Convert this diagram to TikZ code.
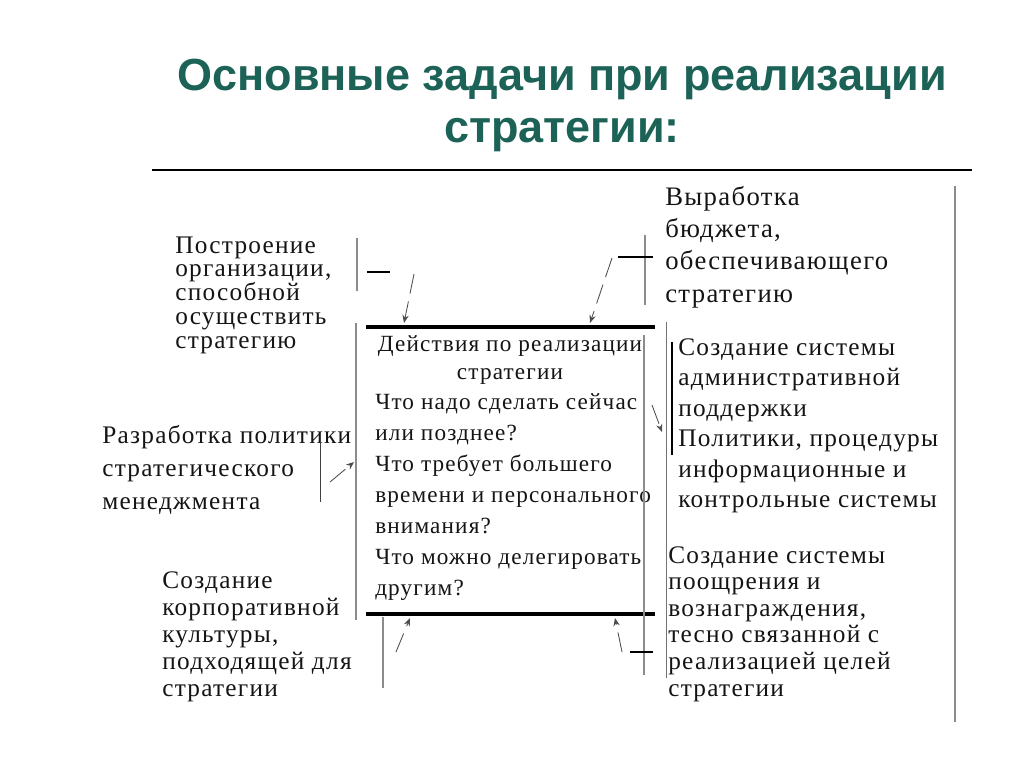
\documentclass[tikz,border=0pt]{standalone}
\usepackage{fontspec}
\newfontfamily\headfont{Liberation Sans}
\newfontfamily\scanfont[LetterSpace=5]{Liberation Serif}
\usetikzlibrary{arrows.meta}
\definecolor{titlegreen}{RGB}{28,98,86}

\begin{document}
\begin{tikzpicture}[
  x=0.25mm, y=-0.25mm,
  >={Stealth[length=2mm,width=1.6mm]},
  head/.style={font=\headfont\bfseries\fontsize{32}{37}\selectfont, text=titlegreen, align=center},
  txt/.style 2 args={font=\scanfont\fontsize{#1}{#2}\selectfont, align=left, anchor=west, inner sep=0pt, text=black!92},
  rim/.style={line width=3.5pt, draw=black},
  grayline/.style={line width=2pt, draw=black!45},
  hair/.style={line width=.7pt, draw=black!55},
  brk/.style={line width=.9pt, draw=black},
  dep/.style={->, dash pattern=on 5mm off 2mm, line width=.6pt, draw=black!70}
]
\useasboundingbox (0,0) rectangle (1024,768);

\node[head] (title) at (562,105) {Основные задачи при реализации\\стратегии:};
\draw[line width=1pt] (152,170) -- (972,170);
\draw[grayline, line width=1.2pt] (955,186) -- (955,722);

% central block
\node[txt={16.5}{20.5}, anchor=center, align=center] (acthead) at (510,360) {Действия по реализации\\стратегии};
\node[txt={16.5}{22}] (actlist) at (375,497) {Что надо сделать сейчас\\или позднее?\\Что требует большего\\времени и персонального\\внимания?\\Что можно делегировать\\другим?};
\draw[rim] (366,327) -- (655,327);
\draw[rim] (366,614) -- (655,614);
\draw[grayline] (356,323) -- (356,620);
\draw[grayline] (644,335) -- (644,675);
\draw[hair] (666,322) -- (666,678);

% surrounding tasks
\node[txt={18}{16.9}] (build) at (175,295) {Построение\\организации,\\способной\\осуществить\\стратегию};
\node[txt={19}{23}] (budget) at (665,247) {Выработка\\бюджета,\\обеспечивающего\\стратегию};
\node[txt={18}{23.7}] (policy) at (102,470) {Разработка политики\\стратегического\\менеджмента};
\node[txt={18}{21.7}] (support) at (678,426) {Создание системы\\административной\\поддержки\\Политики, процедуры\\информационные и\\контрольные системы};
\node[txt={18}{19.3}] (culture) at (162,637) {Создание\\корпоративной\\культуры,\\подходящей для\\стратегии};
\node[txt={18}{18.9}] (reward) at (668,624) {Создание системы\\поощрения и\\вознаграждения,\\тесно связанной с\\реализацией целей\\стратегии};

% brackets
\draw[grayline] (357,238) -- (357,291);
\draw[brk] (367,272) -- (390,272);
\draw[grayline] (645,235) -- (645,305);
\draw[brk] (618,257) -- (653,257);
\draw[hair, draw=black!75] (320,433) -- (320,502);
\draw[brk, line width=1.5pt] (672,342) -- (672,455);
\draw[grayline] (383,617) -- (383,688);
\draw[brk] (630,652) -- (653,652);

% arrows to the central block
\coordinate (buildout) at (414,274);   \coordinate (buildin) at (404,323);
\coordinate (budgetout) at (612,258);  \coordinate (budgetin) at (590,323);
\coordinate (policyout) at (330,482);  \coordinate (policyin) at (354,462);
\coordinate (supportin) at (652,405);  \coordinate (supportout) at (662,432);
\coordinate (cultureout) at (396,652); \coordinate (culturein) at (410,618);
\coordinate (rewardout) at (622,652);  \coordinate (rewardin) at (615,618);
\draw[dep] (buildout) -- (buildin);
\draw[dep] (budgetout) -- (budgetin);
\draw[dep] (policyout) -- (policyin);
\draw[dep] (supportin) -- (supportout);
\draw[dep] (cultureout) -- (culturein);
\draw[dep] (rewardout) -- (rewardin);
\end{tikzpicture}
\end{document}
